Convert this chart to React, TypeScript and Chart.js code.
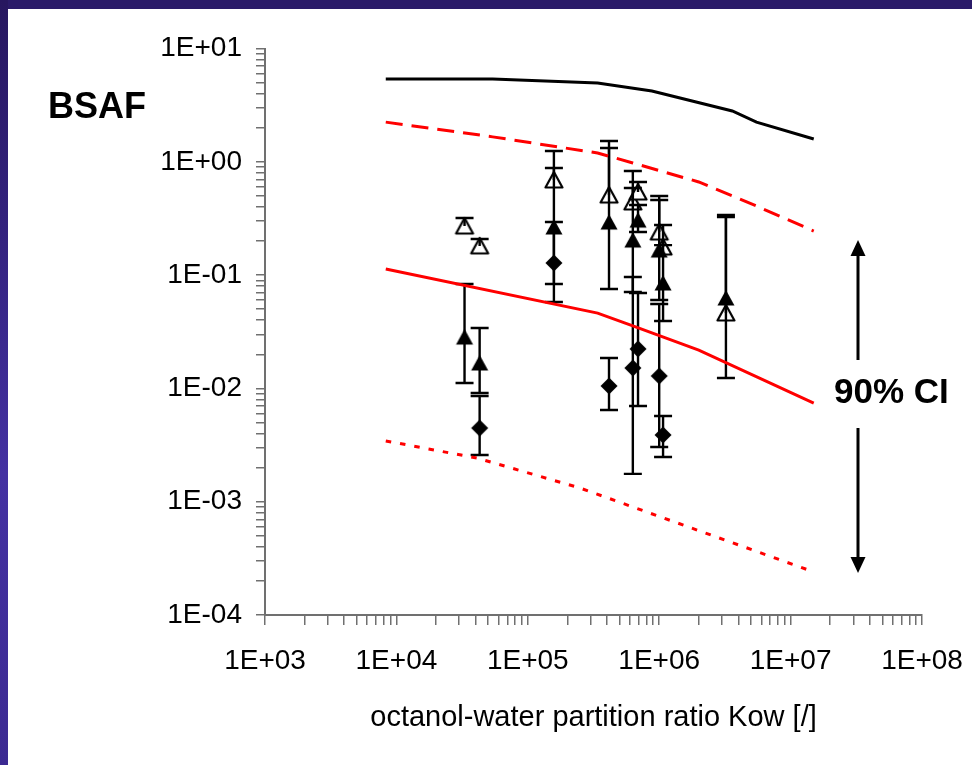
import React, { useEffect, useRef } from "react";
import { Chart, registerables } from "chart.js";

Chart.register(...registerables);

const FONT = "'Liberation Sans', Arial, Helvetica, sans-serif";

// Axis ranges
const kowRange = [1e3, 1e8];
const bsafRange = [1e-4, 1e1];

// Measured compounds (x = octanol-water partition ratio)
const kowTriangles = [3.3e4, 4.3e4, 1.58e5, 4.15e5, 6.3e5, 6.9e5, 1.0e6, 1.07e6, 3.22e6];

// Open triangles (upper bound only)
const bsafOpen = [0.271, 0.181, 0.691, 0.509, 0.442, 0.541, 0.24, 0.177, 0.0463];
const bsafOpenHigh = [0.319, 0.208, 1.245, 1.526, 0.829, 0.663, 0.499, 0.277, 0.339];

// Filled triangles
const bsafFilled = [0.0284, 0.01676, 0.266, 0.294, 0.204, 0.306, 0.1665, 0.0852, 0.0628];
const bsafFilledLow = [0.01116, 0.00911, 0.0834, 0.0754, 0.0709, 0.24, 0.0603, 0.0394, 0.01235];
const bsafFilledHigh = [0.0834, 0.0341, 0.882, 1.324, 0.587, 0.416, 0.46, 0.184, 0.326];

// Filled diamonds
const kowDiamonds = [4.3e4, 1.58e5, 4.15e5, 6.3e5, 6.9e5, 1.0e6, 1.07e6];
const bsafDiamond = [0.00447, 0.128, 0.0105, 0.01514, 0.0223, 0.01287, 0.00388];
const bsafDiamondLow = [0.00258, 0.0579, 0.00645, 0.00176, 0.00699, 0.00304, 0.00248];
const bsafDiamondHigh = [0.00857, 0.294, 0.01855, 0.0962, 0.0695, 0.0556, 0.00571];

// Model curves
const kowUpperBound = [8.3e3, 5.4e4, 3.4e5, 8.8e5, 3.6e6, 5.5e6, 1.5e7];
const bsafUpperBound = [5.38, 5.38, 4.95, 4.22, 2.81, 2.24, 1.59];

const kowCiHigh = [8.3e3, 5.4e4, 3.4e5, 6.3e5, 2.0e6, 5.5e6, 1.5e7];
const bsafCiHigh = [2.24, 1.66, 1.196, 0.976, 0.664, 0.407, 0.245];

const kowMedian = [8.3e3, 3.4e5, 6.3e5, 2.0e6, 1.5e7];
const bsafMedian = [0.113, 0.0462, 0.0356, 0.0218, 0.00743];

const kowCiLow = [8.3e3, 4.1e4, 2.5e5, 1.5e7];
const bsafCiLow = [0.00344, 0.00243, 0.00132, 0.00024];

const xTitle = "octanol-water partition ratio Kow [/]";
const yTitle = "BSAF";
const ciLabel = "90% CI";

const toPoints = (xs: number[], ys: number[]) => xs.map((x, i) => ({ x, y: ys[i] }));

function sciLabel(value: number): string {
  const e = Math.round(Math.log10(value));
  if (Math.abs(value / Math.pow(10, e) - 1) > 1e-6) return "";
  const sign = e < 0 ? "-" : "+";
  return `1E${sign}${String(Math.abs(e)).padStart(2, "0")}`;
}

function logTicks(scale: any) {
  const lo = Math.round(Math.log10(scale.min));
  const hi = Math.round(Math.log10(scale.max));
  const ticks: { value: number }[] = [];
  for (let e = lo; e < hi; e++) {
    for (let m = 1; m < 10; m++) ticks.push({ value: m * Math.pow(10, e) });
  }
  ticks.push({ value: Math.pow(10, hi) });
  scale.ticks = ticks;
}

function makeMarker(kind: "tri" | "triOpen" | "diamond"): HTMLCanvasElement {
  const c = document.createElement("canvas");
  c.width = 22;
  c.height = 22;
  const g = c.getContext("2d")!;
  g.beginPath();
  if (kind === "diamond") {
    g.moveTo(11, 2.5);
    g.lineTo(19.5, 11);
    g.lineTo(11, 19.5);
    g.lineTo(2.5, 11);
  } else {
    g.moveTo(11, 3);
    g.lineTo(19.5, 18.5);
    g.lineTo(2.5, 18.5);
  }
  g.closePath();
  if (kind === "triOpen") {
    g.fillStyle = "#fff";
    g.fill();
    g.lineWidth = 2.2;
    g.lineJoin = "round";
    g.strokeStyle = "#000";
    g.stroke();
  } else {
    g.fillStyle = "#000";
    g.fill();
  }
  return c;
}

// Vertical error bars with caps, drawn right after their own dataset
const errorBarPlugin = {
  id: "errorBars",
  afterDatasetDraw(chart: any, args: any) {
    const ds = chart.data.datasets[args.index];
    if (!ds.errorHigh) return;
    const xs = chart.scales.x;
    const ys = chart.scales.y;
    const ctx = chart.ctx;
    ctx.save();
    ctx.strokeStyle = "#000";
    ctx.lineWidth = 2.4;
    ctx.lineCap = "butt";
    ds.data.forEach((p: any, i: number) => {
      const px = xs.getPixelForValue(p.x);
      const hiV = ds.errorHigh[i];
      const loV = ds.errorLow ? ds.errorLow[i] : p.y;
      const ph = ys.getPixelForValue(hiV);
      const pl = ys.getPixelForValue(loV);
      ctx.beginPath();
      ctx.moveTo(px, ph);
      ctx.lineTo(px, pl);
      if (hiV !== p.y) {
        ctx.moveTo(px - 9, ph);
        ctx.lineTo(px + 9, ph);
      }
      if (loV !== p.y) {
        ctx.moveTo(px - 9, pl);
        ctx.lineTo(px + 9, pl);
      }
      ctx.stroke();
    });
    ctx.restore();
  },
};

// Free text labels and the confidence-interval arrow
const annotationPlugin = {
  id: "annotations",
  afterDraw(chart: any) {
    const ctx = chart.ctx;
    ctx.save();
    ctx.fillStyle = "#000";
    ctx.textBaseline = "middle";
    ctx.textAlign = "left";
    ctx.font = `bold 36px ${FONT}`;
    ctx.fillText(yTitle, 48, 108);
    ctx.font = `bold 35px ${FONT}`;
    ctx.fillText(ciLabel, 834, 393);

    const ax = 858;
    ctx.strokeStyle = "#000";
    ctx.lineWidth = 3;
    ctx.beginPath();
    ctx.moveTo(ax, 254);
    ctx.lineTo(ax, 360);
    ctx.moveTo(ax, 428);
    ctx.lineTo(ax, 559);
    ctx.stroke();
    ctx.beginPath();
    ctx.moveTo(ax, 240);
    ctx.lineTo(ax + 7.5, 256);
    ctx.lineTo(ax - 7.5, 256);
    ctx.closePath();
    ctx.fill();
    ctx.beginPath();
    ctx.moveTo(ax, 573);
    ctx.lineTo(ax + 7.5, 557);
    ctx.lineTo(ax - 7.5, 557);
    ctx.closePath();
    ctx.fill();
    ctx.restore();
  },
};

export default function App() {
  const canvasRef = useRef<HTMLCanvasElement | null>(null);

  useEffect(() => {
    const canvas = canvasRef.current;
    if (!canvas) return;

    const axisColor = "#707070";
    const tickFont = { family: FONT, size: 28 };

    const chart = new Chart(canvas, {
      type: "scatter",
      data: {
        datasets: [
          {
            label: "upper",
            data: toPoints(kowUpperBound, bsafUpperBound),
            showLine: true,
            borderColor: "#000",
            borderWidth: 3,
            pointRadius: 0,
            order: 0,
          },
          {
            label: "ci high",
            data: toPoints(kowCiHigh, bsafCiHigh),
            showLine: true,
            borderColor: "#ff0000",
            borderWidth: 3,
            borderDash: [17, 9],
            pointRadius: 0,
            order: 0,
          },
          {
            label: "median",
            data: toPoints(kowMedian, bsafMedian),
            showLine: true,
            borderColor: "#ff0000",
            borderWidth: 3,
            pointRadius: 0,
            order: 0,
          },
          {
            label: "ci low",
            data: toPoints(kowCiLow, bsafCiLow),
            showLine: true,
            borderColor: "#ff0000",
            borderWidth: 3,
            borderDash: [5.5, 9],
            pointRadius: 0,
            order: 0,
          },
          {
            label: "diamonds",
            data: toPoints(kowDiamonds, bsafDiamond),
            pointStyle: makeMarker("diamond"),
            pointRadius: 8,
            errorLow: bsafDiamondLow,
            errorHigh: bsafDiamondHigh,
            order: 1,
          } as any,
          {
            label: "filled triangles",
            data: toPoints(kowTriangles, bsafFilled),
            pointStyle: makeMarker("tri"),
            pointRadius: 8,
            errorLow: bsafFilledLow,
            errorHigh: bsafFilledHigh,
            order: 2,
          } as any,
          {
            label: "open triangles",
            data: toPoints(kowTriangles, bsafOpen),
            pointStyle: makeMarker("triOpen"),
            pointRadius: 8,
            errorHigh: bsafOpenHigh,
            order: 3,
          } as any,
        ],
      },
      options: {
        responsive: false,
        animation: false,
        events: [],
        layout: { padding: { left: 0, right: 50, top: 48.5, bottom: 29.6 } },
        plugins: { legend: { display: false }, tooltip: { enabled: false } },
        scales: {
          x: {
            type: "logarithmic",
            position: "bottom",
            min: kowRange[0],
            max: kowRange[1],
            afterBuildTicks: logTicks,
            afterFit: (s: any) => {
              s.height = 120.4;
              s.paddingLeft = 0;
              s.paddingRight = 0;
            },
            grid: {
              display: true,
              drawOnChartArea: false,
              drawTicks: true,
              tickLength: 10,
              color: axisColor,
              lineWidth: 1.5,
            },
            border: { display: true, color: axisColor, width: 2 },
            ticks: {
              autoSkip: false,
              maxRotation: 0,
              padding: 19,
              color: "#000",
              font: tickFont,
              callback: (v: any) => sciLabel(Number(v)),
            },
            title: {
              display: true,
              text: xTitle,
              color: "#000",
              font: { family: FONT, size: 29 },
              padding: { top: 0, bottom: 0 },
            },
          },
          y: {
            type: "logarithmic",
            position: "left",
            min: bsafRange[0],
            max: bsafRange[1],
            afterBuildTicks: logTicks,
            afterFit: (s: any) => {
              s.width = 265;
              s.paddingTop = 0;
              s.paddingBottom = 0;
            },
            grid: {
              display: true,
              drawOnChartArea: false,
              drawTicks: true,
              tickLength: 9,
              color: axisColor,
              lineWidth: 1.5,
            },
            border: { display: true, color: axisColor, width: 2 },
            ticks: {
              autoSkip: false,
              padding: 14,
              color: "#000",
              font: tickFont,
              callback: (v: any) => sciLabel(Number(v)),
            },
          },
        },
      },
      plugins: [errorBarPlugin, annotationPlugin],
    } as any);

    return () => chart.destroy();
  }, []);

  return (
    <div
      style={{
        position: "fixed",
        left: 0,
        top: 0,
        width: 972,
        height: 765,
        background: "#ffffff",
        overflow: "hidden",
      }}
    >
      <div
        style={{
          position: "absolute",
          left: 0,
          top: 0,
          width: 972,
          height: 9,
          background: "#2b1b69",
        }}
      />
      <div
        style={{
          position: "absolute",
          left: 0,
          top: 0,
          width: 8,
          height: 765,
          background:
            "linear-gradient(to bottom, #27175f 0%, #33227e 30%, #4431a2 62%, #3c2a92 100%)",
        }}
      />
      <canvas
        ref={canvasRef}
        width={972}
        height={765}
        style={{ position: "absolute", left: 0, top: 0, width: 972, height: 765 }}
      />
    </div>
  );
}
